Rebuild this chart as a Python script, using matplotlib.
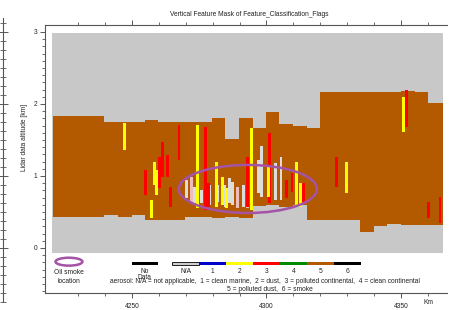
import numpy as np
import matplotlib
matplotlib.use("Agg")
import matplotlib.pyplot as plt
from matplotlib.patches import Ellipse, Rectangle

plt.rcParams['font.family'] = ['Liberation Sans', 'DejaVu Sans']

# ---------------- data ----------------
# background (no-feature / clear air) extent
bg_x = [4220.3, 4365.5]
bg_alt = [-0.07, 2.99]

# brown aerosol layer (type 5): step profile, edges in km, top/base in km altitude
layer_edges = [4220.6, 4239.6, 4244.8, 4250.0, 4254.8, 4259.7, 4269.7, 4279.7, 4284.6,
               4289.8, 4295.0, 4299.8, 4304.6, 4309.9, 4315.1, 4319.9, 4334.8, 4340.0,
               4344.8, 4350.0, 4355.2, 4360.0, 4365.6]
layer_top = [1.83, 1.75, 1.75, 1.75, 1.78, 1.75, 1.75, 1.81, 1.51, 1.81, 1.67,
             1.89, 1.72, 1.69, 1.67, 2.17, 2.17, 2.17, 2.17, 2.18, 2.17, 2.01]
layer_base = [0.43, 0.46, 0.43, 0.46, 0.39, 0.39, 0.43, 0.42, 0.43, 0.42, 0.58,
              0.60, 0.57, 0.60, 0.39, 0.39, 0.22, 0.31, 0.33, 0.32, 0.32, 0.32]

# thin vertical features: (x km, top, base)
red_x = [4255.2, 4260.4, 4261.5, 4263.4, 4264.5, 4267.5, 4277.5, 4278.3, 4293.1,
         4301.3, 4307.6, 4309.5, 4313.6, 4326.2, 4352.2, 4360.4, 4364.5]
red_top = [1.08, 1.26, 1.47, 1.29, 0.85, 1.71, 1.68, 0.90, 1.26,
           1.60, 0.94, 1.04, 0.90, 1.26, 2.19, 0.64, 0.71]
red_base = [0.74, 0.83, 0.99, 0.99, 0.57, 1.22, 0.53, 0.57, 0.57,
            0.63, 0.69, 0.78, 0.63, 0.85, 1.68, 0.42, 0.35]

yellow_x = [4247.4, 4257.4, 4258.4, 4259.3, 4274.5, 4281.6, 4283.5, 4285.3, 4294.6,
            4300.6, 4311.3, 4312.5, 4329.6, 4351.1]
yellow_top = [1.74, 0.67, 1.19, 1.08, 1.71, 1.19, 0.99, 0.83, 1.67,
              1.13, 1.19, 0.90, 1.19, 2.10]
yellow_base = [1.36, 0.42, 0.88, 0.74, 0.56, 0.57, 0.60, 0.56, 0.53,
               0.71, 0.57, 0.57, 0.76, 1.61]

na_x = [4270.4, 4273.4, 4276.0, 4279.0, 4282.0, 4284.6, 4286.4, 4287.5, 4291.3,
        4297.2, 4298.3, 4303.2, 4305.4]
na_top = [0.94, 0.85, 0.81, 0.88, 0.88, 0.88, 0.97, 0.92, 0.88,
          1.22, 1.42, 1.18, 1.26]
na_base = [0.69, 0.63, 0.63, 0.60, 0.64, 0.57, 0.63, 0.60, 0.57,
           0.76, 0.71, 0.67, 0.67]

pink_x = [4272.3, 4289.4, 4292.8]
pink_top = [0.99, 0.85, 0.83]
pink_base = [0.64, 0.56, 0.56]

# oil smoke location ellipse (center km, center alt, width km, height km)
smoke_center = (4293.1, 0.82)
smoke_size = (51.3, 0.667)

# legend categories
leg_labels = ["N/A", "1", "2", "3", "4", "5", "6"]
leg_colors = ["#CDCDCD", "#0000C8", "#FFFF00", "#FF0000", "#008A00", "#B35A00", "#000000"]
xticks_major = [4250, 4300, 4350]
yticks_major = [0, 1, 2, 3]

# ---------------- figure ----------------
BROWN = "#B35A00"
BG = "#C8C8C8"
PURPLE = "#A453A6"
TXT = "#222222"
SP = "#555555"
FS = 4.8

fig = plt.figure(figsize=(4.5, 3.1), dpi=100)
W, H = 450, 310
ax = fig.add_axes([45 / W, (H - 293) / H, (447 - 45) / W, (293 - 25) / H])
ax.set_xlim(4217.7, 4367.1)
ax.set_ylim(-0.625, 3.097)

ax.fill_between(bg_x, bg_alt[0], bg_alt[1], color=BG, linewidth=0, zorder=1)
et = np.array(layer_edges)
ax.fill_between(et, np.r_[layer_top, layer_top[-1]], np.r_[layer_base, layer_base[-1]],
                step='post', color=BROWN, linewidth=0, zorder=2)

bw = 1.1
for xs, tp, bs, c in [(na_x, na_top, na_base, "#DCDCDC"),
                      (pink_x, pink_top, pink_base, "#EDBDBD"),
                      (red_x, red_top, red_base, "#FF0000"),
                      (yellow_x, yellow_top, yellow_base, "#FFFF00")]:
    tp = np.array(tp); bs = np.array(bs)
    ax.bar(xs, tp - bs, bottom=bs, width=bw, color=c, linewidth=0, zorder=3)

ax.add_patch(Ellipse(smoke_center, smoke_size[0], smoke_size[1], fill=False,
                     edgecolor=PURPLE, linewidth=1.8, zorder=4))

# axes styling
for s in ['left', 'top', 'bottom']:
    ax.spines[s].set_color(SP)
    ax.spines[s].set_linewidth(0.8)
ax.spines['right'].set_visible(False)
ax.set_xticks(xticks_major)
ax.set_xticks(np.arange(4230, 4361, 10), minor=True)
ax.set_yticks(yticks_major)
ax.set_yticks(np.arange(-0.6, 3.05, 0.1), minor=True)
ax.tick_params(axis='x', which='both', top=True, bottom=True, direction='out',
               colors=SP, labelcolor=TXT, labelsize=FS, pad=4)
ax.tick_params(axis='y', which='both', direction='out', colors=SP, labelcolor=TXT,
               labelsize=FS, pad=2)
ax.tick_params(which='major', length=3.5, width=0.7)
ax.tick_params(which='minor', length=2.2, width=0.6)

fig.text(428 / W, 1 - 303 / H, "Km", ha='center', va='center', fontsize=FS, color=TXT)
fig.text(249 / W, 1 - 14 / H, "Vertical Feature Mask of Feature_Classification_Flags",
         ha='center', va='center', fontsize=FS, color=TXT)
fig.text(25 / W, 1 - 137 / H, "Lidar data altitude [km]", rotation=90,
         ha='center', va='center', fontsize=FS, color=TXT)

# legend inside the axes
ax.add_patch(Ellipse((4226.6, -0.19), 10, 0.11, fill=False, edgecolor=PURPLE,
                     linewidth=1.8, zorder=4, clip_on=False))
ax.text(4226.6, -0.347, "Oil smoke", ha='center', va='center', fontsize=FS, color=TXT)
ax.text(4226.6, -0.472, "location", ha='center', va='center', fontsize=FS, color=TXT)

yb0, yb1 = -0.243, -0.194
ax.add_patch(Rectangle((4250, yb0), 9.7, yb1 - yb0, color="black", linewidth=0))
ax.text(4254.8, -0.333, "No", ha='center', va='center', fontsize=FS, color=TXT)
ax.text(4254.8, -0.41, "Data", ha='center', va='center', fontsize=FS, color=TXT)
x0 = 4265.0
for i, (lab, c) in enumerate(zip(leg_labels, leg_colors)):
    xi = x0 + 10 * i
    ec = "black" if i == 0 else c
    ax.add_patch(Rectangle((xi, yb0), 10, yb1 - yb0, facecolor=c, edgecolor=ec,
                           linewidth=0.6 if i == 0 else 0))
    ax.text(xi + 5, -0.333, lab, ha='center', va='center', fontsize=FS, color=TXT)
ax.text(4299.4, -0.47,
        "aerosol: N/A = not applicable,  1 = clean marine,  2 = dust,  3 = polluted continental,  4 = clean continental",
        ha='center', va='center', fontsize=FS, color=TXT)
ax.text(4301.3, -0.57, "5 = polluted dust,  6 = smoke", ha='center', va='center',
        fontsize=FS, color=TXT)

# cropped neighbouring panel axis at far left
ax2 = fig.add_axes([3 / W, (H - 302) / H, 0.0001, (302 - 18) / H])
ax2.set_ylim((248 - 302) / 72, (248 - 18) / 72)
ax2.set_xticks([])
for s in ['right', 'top', 'bottom']:
    ax2.spines[s].set_visible(False)
ax2.spines['left'].set_color(SP)
ax2.spines['left'].set_linewidth(0.8)
ax2.set_yticks(yticks_major)
ax2.set_yticks(np.arange(-0.75, 3.2, 0.125), minor=True)
ax2.tick_params(axis='y', which='both', direction='inout', colors=SP, labelleft=False)
ax2.tick_params(which='major', length=7, width=0.7)
ax2.tick_params(which='minor', length=5, width=0.6)
ax2.patch.set_visible(False)

fig.savefig("out.png", dpi=100, facecolor="white")
